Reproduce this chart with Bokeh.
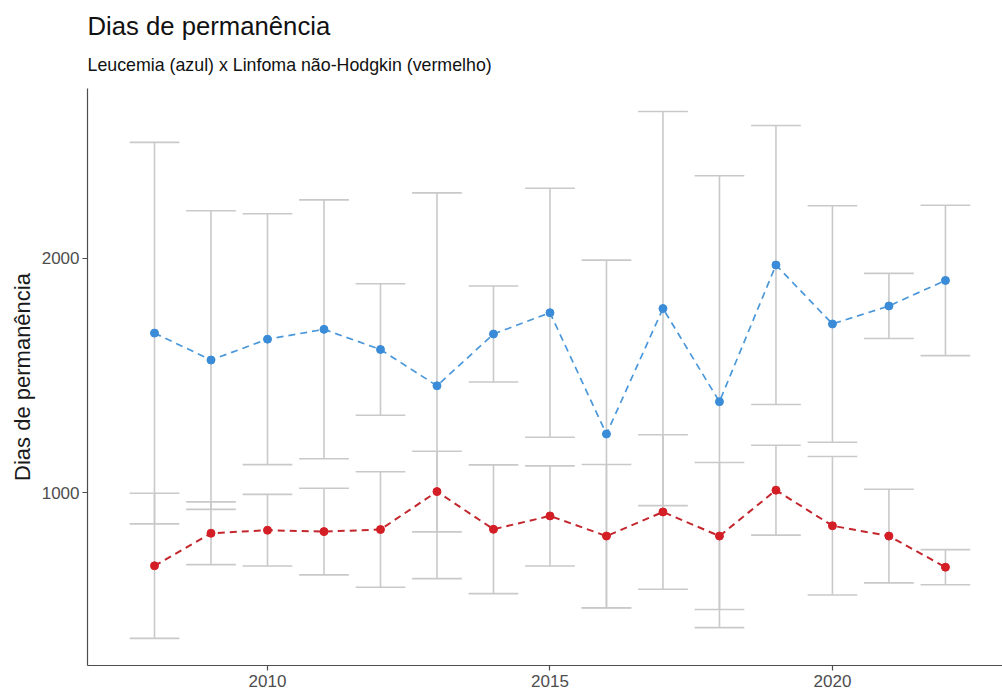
import numpy as np
from bokeh.plotting import figure
from bokeh.models import Range1d, FixedTicker, Title
from bokeh.embed import file_html
from bokeh.resources import INLINE

# Length of stay per year: mean and standard deviation
years = [2008, 2009, 2010, 2011, 2012, 2013, 2014, 2015,
         2016, 2017, 2018, 2019, 2020, 2021, 2022]

leucemia_mean = [1681, 1566, 1655, 1697, 1611, 1456, 1677, 1768,
                 1250, 1786, 1388, 1972, 1720, 1797, 1906]
leucemia_sd = [815, 638, 536, 553, 281, 824, 205, 532,
               743, 842, 965, 596, 505, 139, 321]

linfoma_mean = [687, 826, 839, 833, 842, 1004, 843, 900,
                814, 917, 814, 1010, 858, 814, 681]
linfoma_sd = [310, 134, 153, 185, 247, 172, 275, 214,
              306, 330, 314, 192, 296, 200, 75]

x_ticks = [2010, 2015, 2020]
y_ticks = [1000, 2000]

FONT = "Liberation Sans"
BAR_GRAY = "#c9c9c9"
BLUE_PT, BLUE_LN = "#3a8cd8", "#4a97da"
RED_PT, RED_LN = "#d41e26", "#c4262d"
CAP_HALF = 0.44

p = figure(width=1002, height=691, output_backend="svg", toolbar_location=None,
           x_range=Range1d(2006.814, 2023.01), y_range=Range1d(261, 2726),
           min_border_left=87, min_border_right=0, min_border_top=88,
           min_border_bottom=26, background_fill_color="white",
           border_fill_color="white")

p.outline_line_color = None
p.xgrid.visible = False
p.ygrid.visible = False

yrs = np.array(years, dtype=float)


def error_bars(mean, sd):
    m = np.array(mean, dtype=float)
    s = np.array(sd, dtype=float)
    lo, hi = m - s, m + s
    p.segment(x0=yrs, y0=lo, x1=yrs, y1=hi, line_color=BAR_GRAY, line_width=1.6)
    for edge in (lo, hi):
        p.segment(x0=yrs - CAP_HALF, y0=edge, x1=yrs + CAP_HALF, y1=edge,
                  line_color=BAR_GRAY, line_width=1.6)


error_bars(leucemia_mean, leucemia_sd)
error_bars(linfoma_mean, linfoma_sd)

p.line(yrs, leucemia_mean, line_color=BLUE_LN, line_width=1.7, line_dash="7 5")
p.line(yrs, linfoma_mean, line_color=RED_LN, line_width=2.0, line_dash="7 5")
p.scatter(yrs, leucemia_mean, size=8, fill_color=BLUE_PT, line_color=BLUE_PT)
p.scatter(yrs, linfoma_mean, size=8, fill_color=RED_PT, line_color=RED_PT)

# Axes
for ax in (p.xaxis[0], p.yaxis[0]):
    ax.axis_line_color = "#4d4d4d"
    ax.axis_line_width = 1.2
    ax.major_tick_line_color = "#4d4d4d"
    ax.major_tick_line_width = 1.2
    ax.major_tick_out = 5
    ax.major_tick_in = 0
    ax.minor_tick_line_color = None
    ax.major_label_text_font = FONT
    ax.major_label_text_font_size = "17px"
    ax.major_label_text_color = "#4d4d4d"

p.xaxis.ticker = FixedTicker(ticks=x_ticks)
p.yaxis.ticker = FixedTicker(ticks=y_ticks)
p.xaxis.major_label_standoff = 4
p.yaxis.major_label_standoff = 3
p.yaxis.axis_label = "Dias de permanência"
p.yaxis.axis_label_text_font = FONT
p.yaxis.axis_label_text_font_size = "22px"
p.yaxis.axis_label_text_font_style = "normal"
p.yaxis.axis_label_text_color = "#1a1a1a"
p.yaxis.axis_label_standoff = 4

# Title and subtitle, stacked above the frame
p.title = None
p.add_layout(Title(text="Leucemia (azul) x Linfoma não-Hodgkin (vermelho)",
                   text_font=FONT, text_font_size="17.8px", text_font_style="normal",
                   text_color="#111111", align="left", standoff=27), "above")
p.add_layout(Title(text="Dias de permanência", text_font=FONT,
                   text_font_size="25.7px", text_font_style="normal",
                   text_color="#111111", align="left", standoff=0), "above")

open("out.html", "w").write(file_html(p, INLINE))
